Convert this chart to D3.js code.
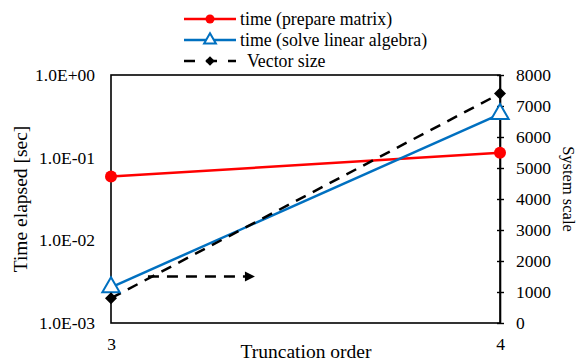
<!DOCTYPE html>
<html>
<head>
<meta charset="utf-8">
<script src="https://cdn.jsdelivr.net/npm/d3@7/dist/d3.min.js"></script>
<style>
  html, body { margin: 0; padding: 0; background: #fff; }
  svg { display: block; }
</style>
</head>
<body>
<svg id="chart" width="579" height="361"></svg>
<script>
// Truncation order on the x axis
const orders = [3, 4];
// Elapsed time in seconds (left, log axis)
const timePrepare = [0.059, 0.115];
const timeSolve = [0.0027, 0.337];
// Vector size (right, linear axis)
const vectorSize = [800, 7400];

const leftTicks = [1e-3, 1e-2, 1e-1, 1e0];
const rightTicks = [0, 1000, 2000, 3000, 4000, 5000, 6000, 7000, 8000];

// Arrow marking that the dashed series reads against the right axis
const arrowX = [3.095, 3.37];
const arrowLevel = 1500;

const FONT = "Liberation Serif";
const svg = d3.select("#chart");
const plot = { left: 111, right: 500, top: 75, bottom: 323 };

const x = d3.scaleLinear().domain([3, 4]).range([plot.left, plot.right]);
const yL = d3.scaleLog().domain([1e-3, 1]).range([plot.bottom, plot.top]);
const yR = d3.scaleLinear().domain([0, 8000]).range([plot.bottom, plot.top]);

const RED = "#ff0000", BLUE = "#0070c0";
const TICK_FONT = 17.5;

function styleText(sel, size) {
  sel.style("font-family", FONT).attr("font-size", size).attr("fill", "#000");
}

// Plot frame
svg.append("rect")
  .attr("x", plot.left).attr("y", plot.top)
  .attr("width", plot.right - plot.left).attr("height", plot.bottom - plot.top)
  .attr("fill", "none").attr("stroke", "#000").attr("stroke-width", 1.6);

// Left axis (labels only)
const sci = d => {
  const [m, e] = d.toExponential(1).split("e");
  const n = Math.abs(+e);
  return `${m}E${+e < 0 ? "-" : "+"}${n < 10 ? "0" + n : n}`;
};
const leftAxis = d3.axisLeft(yL).tickValues(leftTicks).tickSize(0).tickPadding(16).tickFormat(sci);
const gL = svg.append("g").attr("transform", `translate(${plot.left},0)`).call(leftAxis);
gL.select(".domain").remove();
styleText(gL.selectAll("text"), TICK_FONT);

// Right axis with crossing ticks
const rightAxis = d3.axisRight(yR).tickValues(rightTicks).tickSizeInner(4).tickSizeOuter(0)
  .tickPadding(12).tickFormat(d3.format("d"));
const gR = svg.append("g").attr("transform", `translate(${plot.right},0)`).call(rightAxis);
gR.select(".domain").attr("stroke", "#000").attr("stroke-width", 1.6);
gR.selectAll(".tick line").attr("x1", -3).attr("stroke-width", 1.4);
styleText(gR.selectAll("text"), TICK_FONT);

// Bottom axis (labels only)
const bottomAxis = d3.axisBottom(x).tickValues(orders).tickSize(0).tickPadding(15).tickFormat(d3.format("d"));
const gB = svg.append("g").attr("transform", `translate(0,${plot.bottom})`).call(bottomAxis);
gB.select(".domain").remove();
styleText(gB.selectAll("text"), TICK_FONT);

// Axis titles
styleText(svg.append("text").attr("x", 306).attr("y", 358).attr("text-anchor", "middle")
  .text("Truncation order"), 19.5);
styleText(svg.append("text").attr("transform", "translate(27,199) rotate(-90)").attr("text-anchor", "middle")
  .text("Time elapsed [sec]"), 19.5);
styleText(svg.append("text").attr("transform", "translate(563,189) rotate(90)").attr("text-anchor", "middle")
  .text("System scale"), 16.5);

// Series lines
const lineL = d3.line().x((d, i) => x(orders[i])).y(d => yL(d));
const lineR = d3.line().x((d, i) => x(orders[i])).y(d => yR(d));

svg.append("path").attr("d", lineL(timePrepare)).attr("fill", "none")
  .attr("stroke", RED).attr("stroke-width", 2.5);
svg.append("path").attr("d", lineL(timeSolve)).attr("fill", "none")
  .attr("stroke", BLUE).attr("stroke-width", 2.5);
svg.append("path").attr("d", lineR(vectorSize)).attr("fill", "none")
  .attr("stroke", "#000").attr("stroke-width", 2.5).attr("stroke-dasharray", "11,8");

// Marker symbols
const tri = d3.symbol().type(d3.symbolTriangle);
const square = d3.symbol().type(d3.symbolSquare);

function drawCircle(g, cx, cy, r) {
  g.append("circle").attr("cx", cx).attr("cy", cy).attr("r", r).attr("fill", RED);
}
function drawTriangle(g, cx, cy, s) {
  g.append("path").attr("d", tri.size(s)()).attr("transform", `translate(${cx},${cy})`)
    .attr("fill", "#fff").attr("stroke", BLUE).attr("stroke-width", 2);
}
function drawDiamond(g, cx, cy, s) {
  g.append("path").attr("d", square.size(s)()).attr("transform", `translate(${cx},${cy}) rotate(45)`)
    .attr("fill", "#000");
}

const marks = svg.append("g");
timePrepare.forEach((v, i) => drawCircle(marks, x(orders[i]), yL(v), 6));
timeSolve.forEach((v, i) => drawTriangle(marks, x(orders[i]), yL(v), 130));
vectorSize.forEach((v, i) => drawDiamond(marks, x(orders[i]), yR(v), 72));

// Arrow annotation
svg.append("line")
  .attr("x1", x(arrowX[0])).attr("x2", x(arrowX[1]) - 8)
  .attr("y1", yR(arrowLevel)).attr("y2", yR(arrowLevel))
  .attr("stroke", "#000").attr("stroke-width", 2.5).attr("stroke-dasharray", "11,8");
svg.append("path")
  .attr("d", `M${x(arrowX[1])},${yR(arrowLevel)} l-10,-5 l0,10 Z`).attr("fill", "#000");

// Legend
const legend = [
  { name: "time (prepare matrix)", color: RED, dash: null, mark: "circle", tx: 240 },
  { name: "time (solve linear algebra)", color: BLUE, dash: null, mark: "triangle", tx: 240 },
  { name: "Vector size", color: "#000", dash: "11,11", mark: "diamond", tx: 247 }
];
const lg = svg.append("g");
legend.forEach((d, i) => {
  const cy = 19 + i * 21;
  lg.append("line").attr("x1", 184).attr("x2", 236).attr("y1", cy).attr("y2", cy)
    .attr("stroke", d.color).attr("stroke-width", 2.5)
    .attr("stroke-dasharray", d.dash);
  if (d.mark === "circle") drawCircle(lg, 210, cy, 4.5);
  if (d.mark === "triangle") drawTriangle(lg, 210, cy, 60);
  if (d.mark === "diamond") drawDiamond(lg, 210, cy, 45);
  styleText(lg.append("text").attr("x", d.tx).attr("y", cy).attr("dy", "0.35em").text(d.name), 17.8);
});
</script>
</body>
</html>
